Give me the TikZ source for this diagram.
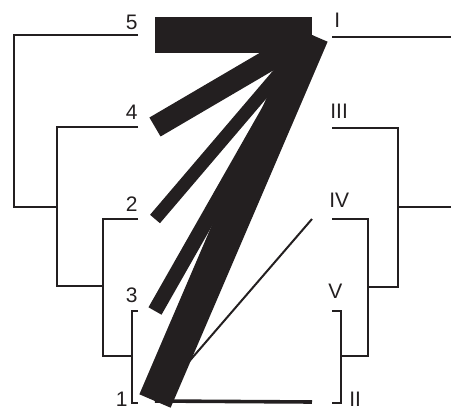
\documentclass[tikz,border=0pt]{standalone}
\usepackage{fontspec}
\setmainfont{Liberation Sans}
\definecolor{ink}{HTML}{231F20}
\tikzset{
  tree line/.style={
    draw=ink, line width=1.1pt
  },
  link band/.style={
    draw=ink, line cap=butt
  },
  leaf label/.style={
    inner sep=0pt, text=ink,
    font=\fontsize{10.5}{12}\selectfont
  },
}

\begin{document}
\begin{tikzpicture}[x=0.5pt, y=-0.5pt]
  \useasboundingbox (0,0) rectangle (451,408);

  % Left tree
  \coordinate (t5) at (138,35);
  \coordinate (t4) at (138,127);
  \coordinate (t2) at (138,219);
  \coordinate (t3) at (138,311);
  \coordinate (t1) at (138,403);
  \coordinate (r0) at (14,207);
  \coordinate (j3) at (57,207);
  \coordinate (j2) at (103,286);
  \coordinate (j1) at (132,356);
  \draw[tree line] (t5) -| (r0) -- (j3);
  \draw[tree line] (t4) -| (j3) |- (j2);
  \draw[tree line] (t2) -| (j2) |- (j1);
  \draw[tree line] (t3) -| (j1) |- (t1);

  \node[leaf label, anchor=base east] (n5) at (138,29) {5};
  \node[leaf label, anchor=base east] (n4) at (138,119) {4};
  \node[leaf label, anchor=base east] (n2) at (138,211) {2};
  \node[leaf label, anchor=base east] (n3) at (138,302) {3};
  \node[leaf label, anchor=base east] (n1) at (128,406) {1};

  % Right tree
  \coordinate (uI) at (332,37);
  \coordinate (uIII) at (332,128);
  \coordinate (uIV) at (332,219);
  \coordinate (uV) at (332,311);
  \coordinate (uII) at (332,403);
  \coordinate (eI) at (451,37);
  \coordinate (eR) at (451,207);
  \coordinate (k3) at (398,207);
  \coordinate (k2) at (368,287);
  \coordinate (k1) at (341,356);
  \draw[tree line] (uI) -- (eI);
  \draw[tree line] (eR) -- (k3);
  \draw[tree line] (uIII) -| (k3) |- (k2);
  \draw[tree line] (uIV) -| (k2) |- (k1);
  \draw[tree line] (uV) -| (k1) |- (uII);

  \node[leaf label, anchor=base west] (nI) at (334,27) {I};
  \node[leaf label, anchor=base west] (nIII) at (330,118) {III};
  \node[leaf label, anchor=base west] (nIV) at (329,207) {IV};
  \node[leaf label, anchor=base west] (nV) at (328,298) {V};
  \node[leaf label, anchor=base west] (nII) at (349,406) {II};

  % Links
  \coordinate (l5) at (155,35);
  \coordinate (l4) at (155,127);
  \coordinate (l2) at (155,219);
  \coordinate (l3) at (155,311);
  \coordinate (l1) at (155,401);
  \coordinate (rI) at (312,35);
  \coordinate (rIV) at (312,219);
  \coordinate (rII) at (312,402);
  \draw[link band, line width=18pt] (l5) -- (rI);
  \draw[link band, line width=11pt] (l4) -- (rI);
  \draw[link band, line width=6.5pt] (l2) -- (rI);
  \draw[link band, line width=7.5pt] (l3) -- (rI);
  \draw[link band, line width=17pt] (l1) -- (rI);
  \draw[link band, line width=1pt] (l1) -- (rIV);
  \draw[link band, line width=1.8pt] (l1) -- (rII);

\end{tikzpicture}
\end{document}
